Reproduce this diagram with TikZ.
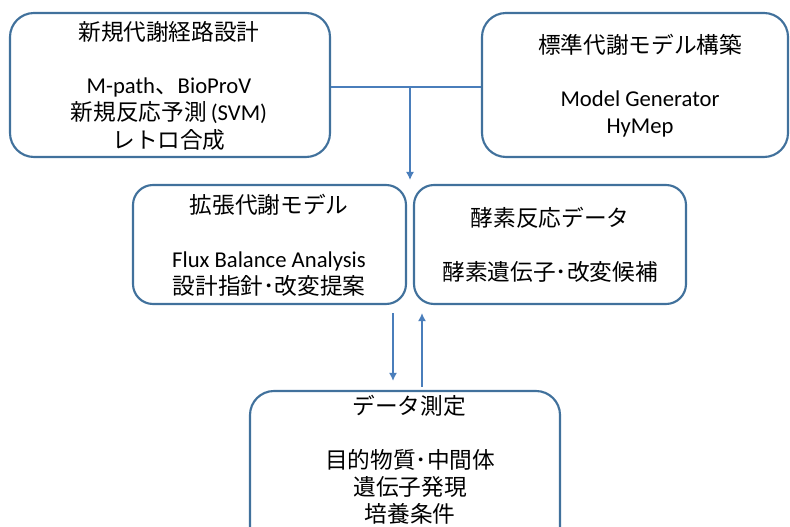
\documentclass[tikz,border=0pt]{standalone}
\usepackage{fontspec}
\setmainfont{Carlito}
\newfontfamily\jp{Noto Sans CJK JP}
\usetikzlibrary{arrows.meta}
\definecolor{boxline}{HTML}{41719C}
\definecolor{arrline}{HTML}{4A7EBB}

\tikzset{
  stage/.style={draw=boxline, line width=1.6pt, inner sep=0pt},
  txt/.style={align=center, inner sep=0pt, font=\fontsize{17pt}{20.5pt}\selectfont},
  link/.style={draw=arrline, line width=1.1pt},
  flow/.style={link, -{Latex[length=6pt,width=6pt]}}
}

\begin{document}
\begin{tikzpicture}[x=0.75pt, y=-0.75pt]
\useasboundingbox (0,0) rectangle (790,527);

% boxes
\node[stage, rounded corners=18pt, minimum width=240pt, minimum height=108pt] (path) at (170,85) {};
\node[stage, rounded corners=18pt, minimum width=229.5pt, minimum height=108pt] (std) at (635,85) {};
\node[stage, rounded corners=15pt, minimum width=204.75pt, minimum height=89.25pt] (ext) at (269.5,244.5) {};
\node[stage, rounded corners=15pt, minimum width=204pt, minimum height=89.25pt] (enz) at (550,244.5) {};
\node[stage, rounded corners=18pt, minimum width=232.5pt, minimum height=120pt] (meas) at (405,471) {};

% texts
\node[txt] (pathT) at (169,32) {\jp 新規代謝経路設計};
\node[txt] (pathB) at (169,114) {M-path{\jp 、}BioProV\\{\jp 新規反応予測}\,(SVM)\\{\jp レトロ合成}};
\node[txt] (stdT) at (640,45) {\jp 標準代謝モデル構築};
\node[txt] (stdB) at (640,114) {Model Generator\\HyMep};
\node[txt] (extT) at (269,205) {\jp 拡張代謝モデル};
\node[txt] (extB) at (269,274) {Flux Balance Analysis\\{\jp 設計指針･改変提案}};
\node[txt] (enzT) at (550,218) {\jp 酵素反応データ};
\node[txt] (enzB) at (550,272) {\jp 酵素遺伝子･改変候補};
\node[txt] (measT) at (409,406) {\jp データ測定};
\node[txt] (measB) at (410,487) {\jp 目的物質･中間体\\\jp 遺伝子発現\\\jp 培養条件};

% connectors
\coordinate (fork) at (410,87);
\coordinate (forkEnd) at (410,180);
\coordinate (dnX) at (393,0);
\coordinate (upX) at (422,0);
\draw[link] (path.east |- fork) -- (std.west |- fork);
\draw[flow] (fork) -- (forkEnd);
\draw[flow, shorten <=6pt, shorten >=6.75pt] (ext.south -| dnX) -- (meas.north -| dnX);
\draw[flow, shorten <=2.25pt, shorten >=6pt] (meas.north -| upX) -- (ext.south -| upX);
\end{tikzpicture}
\end{document}
